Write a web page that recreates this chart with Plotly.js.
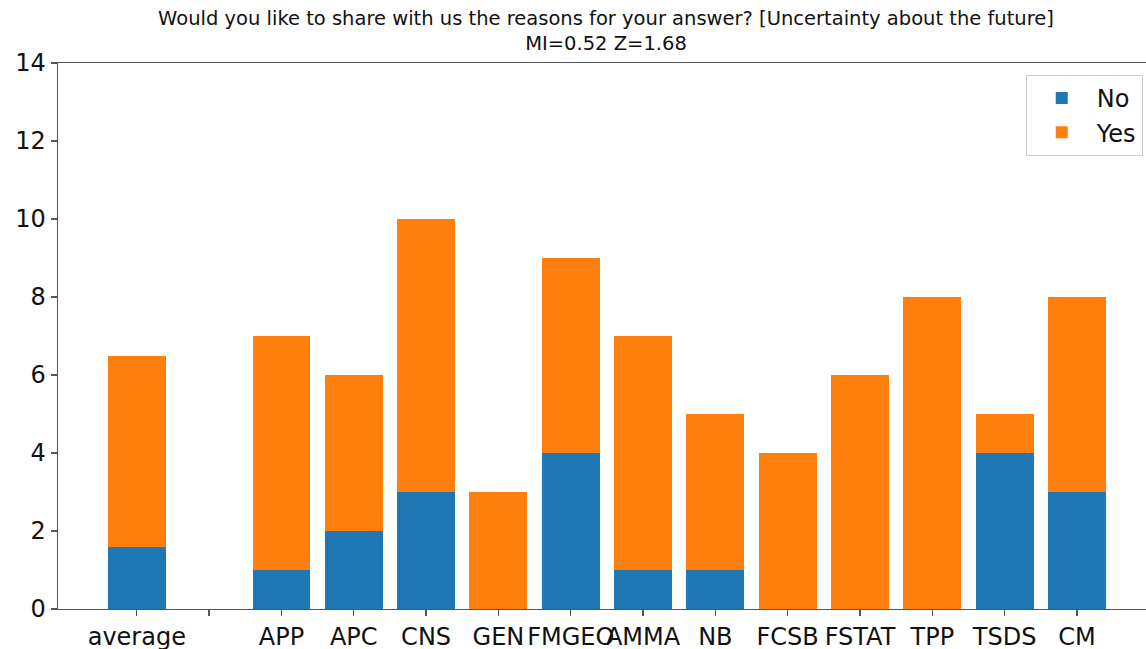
<!DOCTYPE html>
<html>
<head>
<meta charset="utf-8">
<script src="https://cdn.plot.ly/plotly-3.0.1.min.js"></script>
<style>html,body{margin:0;padding:0;background:#fff;}#chart{width:1146px;height:649px;}</style>
</head>
<body>
<div id="chart"></div>
<script>
const categories = ['average', ' ', 'APP', 'APC', 'CNS', 'GEN', 'FMGEO', 'AMMA', 'NB', 'FCSB', 'FSTAT', 'TPP', 'TSDS', 'CM'];
const noValues  = [1.58, null, 1, 2, 3, 0, 4, 1, 1, 0, 0, 0, 4, 3];
const yesValues = [4.92, null, 6, 4, 7, 3, 5, 6, 4, 4, 6, 8, 1, 5];
const yTicks = [0, 2, 4, 6, 8, 10, 12, 14];

const traces = [
  {type: 'bar', name: 'No', x: categories, y: noValues, marker: {color: '#1f77b4'}},
  {type: 'bar', name: 'Yes', x: categories, y: yesValues, marker: {color: '#ff7f0e'}}
];

const font = {family: 'DejaVu Sans, sans-serif', color: '#111'};
const layout = {
  width: 1146, height: 649,
  barmode: 'stack', bargap: 0.2,
  paper_bgcolor: '#fff', plot_bgcolor: '#fff',
  margin: {l: 58, r: 0, t: 63, b: 40, pad: 0},
  font: font,
  title: {
    text: 'Would you like to share with us the reasons for your answer? [Uncertainty about the future]<br>MI=0.52 Z=1.68',
    font: {family: 'DejaVu Sans, sans-serif', size: 19.5, color: '#111'},
    x: 606 / 1146, xanchor: 'center', xref: 'container',
    y: 0.962, yanchor: 'top', yref: 'container'
  },
  xaxis: {
    type: 'category', range: [-1.09, 13.955],
    showline: true, linecolor: '#555', linewidth: 1.3, mirror: true,
    ticks: 'outside', ticklen: 6, tickcolor: '#555', tickwidth: 1.3,
    showgrid: false, zeroline: false, tickangle: 0,
    tickfont: {family: 'DejaVu Sans, sans-serif', size: 24, color: '#111'}
  },
  yaxis: {
    range: [0, 14], tickvals: yTicks,
    showline: true, linecolor: '#555', linewidth: 1.3,
    ticks: 'outside', ticklen: 6, tickcolor: '#555', tickwidth: 1.3,
    showgrid: false, zeroline: false,
    tickfont: {family: 'DejaVu Sans, sans-serif', size: 24, color: '#111'}
  },
  legend: {
    x: 0.997, xanchor: 'right', y: 0.978, yanchor: 'top',
    bordercolor: '#ccc', borderwidth: 1, bgcolor: '#fff',
    font: {family: 'DejaVu Sans, sans-serif', size: 24, color: '#111'},
    traceorder: 'normal', itemwidth: 60
  },
  showlegend: true
};

Plotly.newPlot('chart', traces, layout, {displayModeBar: false, staticPlot: true});
</script>
</body>
</html>
